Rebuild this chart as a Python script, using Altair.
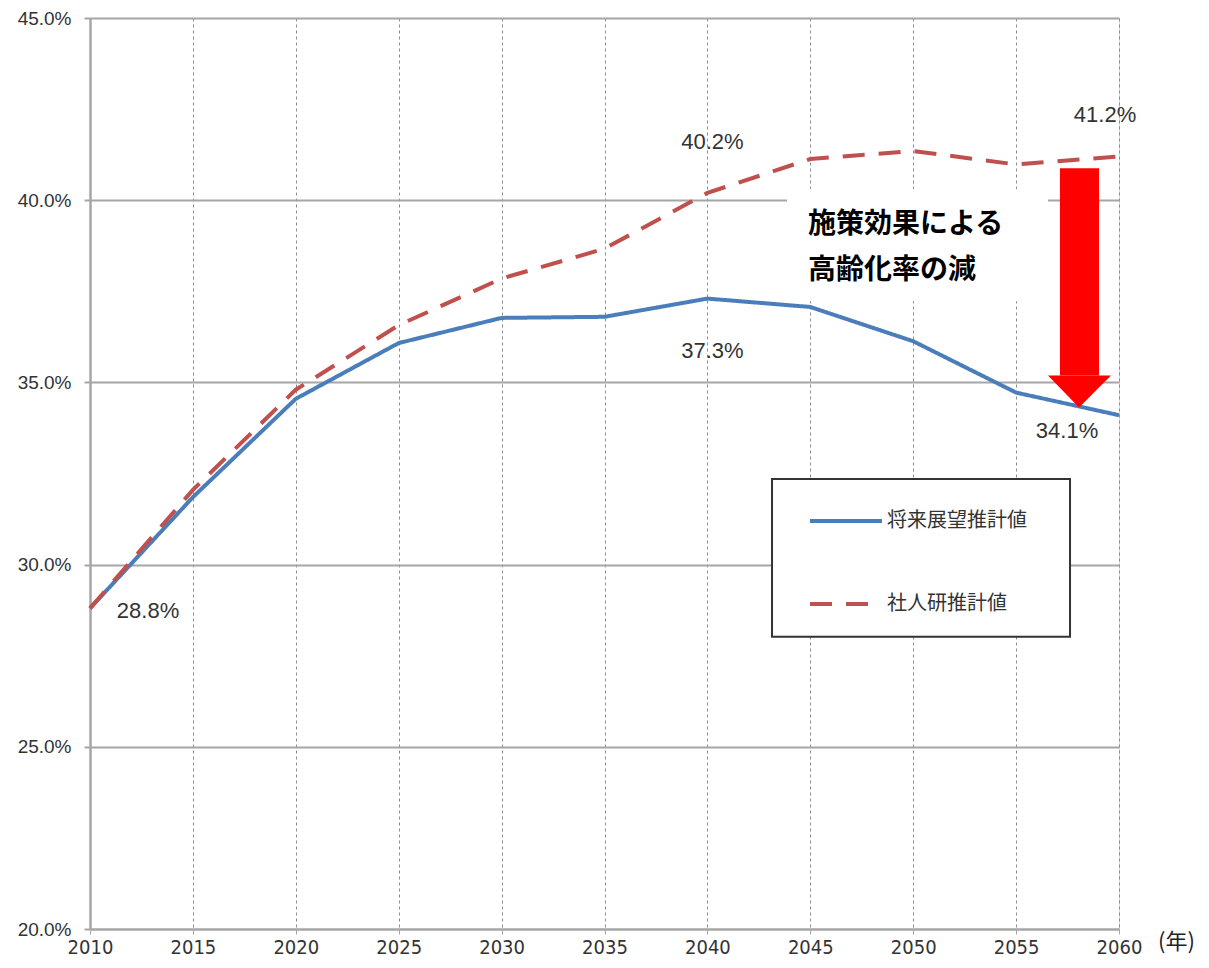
import altair as alt
import pandas as pd

# ---- data ----
years = [2010, 2015, 2020, 2025, 2030, 2035, 2040, 2045, 2050, 2055, 2060]
vision = [28.8, 31.85, 34.55, 36.08, 36.77, 36.8, 37.3, 37.07, 36.13, 34.72, 34.1]
ipss = [28.8, 32.05, 34.8, 36.57, 37.85, 38.67, 40.2, 41.13, 41.35, 40.98, 41.2]
series_names = ["将来展望推計値", "社人研推計値"]

label_years = [2010, 2040, 2040, 2060, 2060]
label_values = [28.8, 40.2, 37.3, 41.2, 34.1]
label_texts = ["28.8%", "40.2%", "37.3%", "41.2%", "34.1%"]

y_ticks = [20, 25, 30, 35, 40, 45]
x_ticks = [2010, 2015, 2020, 2025, 2030, 2035, 2040, 2045, 2050, 2055, 2060]

annotation_lines = ["施策効果による", "高齢化率の減"]

# ---- styles / annotation geometry ----
BLUE = "#4a7ebb"
RED = "#c0504d"
label_offsets = [(58, 3), (5, -51), (5, 52), (-14, -41), (-52, 16)]
NARROW = "'Liberation Sans Narrow', 'Arial Narrow', 'DejaVu Sans Condensed', Roboto, sans-serif"

df = pd.DataFrame({
    "year": years * 2,
    "value": vision + ipss,
    "series": [series_names[0]] * len(years) + [series_names[1]] * len(years),
})

x_scale = alt.Scale(domain=[2010, 2060], nice=False, zero=False)
y_scale = alt.Scale(domain=[20, 45], nice=False, zero=False)

x_axis = alt.Axis(
    values=x_ticks, format="d", title="(年)", grid=True,
    gridDash=[3, 3], gridColor="#8c8c8c", gridWidth=1,
    domainColor="#a6a6a6", domainWidth=2, tickColor="#a6a6a6", tickSize=5, tickWidth=1,
    labelFont=NARROW, labelFontSize=20, labelColor="#333333",
    labelPadding=3, labelFlush=False,
    titleX=1086, titleY=12, titleAngle=0, titleAlign="center", titleBaseline="middle",
    titleFont="Noto Sans CJK JP", titleFontSize=22, titleFontWeight="normal", titleColor="#222222",
)
y_axis = alt.Axis(
    values=y_ticks, labelExpr="format(datum.value, '.1f') + '%'", title=None, grid=True,
    gridColor="#a6a6a6", gridWidth=2, domainColor="#a6a6a6", domainWidth=2.5,
    tickColor="#a6a6a6", tickSize=6, tickWidth=2,
    labelFont="Liberation Sans", labelFontSize=19, labelColor="#333333", labelPadding=13,
)

def X(field="year"):
    return alt.X(f"{field}:Q", scale=x_scale, axis=x_axis)

def Y(field="value"):
    return alt.Y(f"{field}:Q", scale=y_scale, axis=y_axis, stack=None)

legend = alt.Legend(
    title=None, orient="none", legendX=718, legendY=465, symbolType="stroke",
    symbolSize=5184, symbolStrokeWidth=4, labelFont="Noto Sans CJK JP", labelFontSize=20,
    labelColor="#333333", rowPadding=35, labelOffset=3, padding=0, direction="vertical",
)

lines = alt.Chart(df).mark_line(strokeWidth=4).encode(
    x=X(), y=Y(),
    color=alt.Color("series:N", scale=alt.Scale(domain=series_names, range=[BLUE, RED]), legend=legend),
    strokeDash=alt.StrokeDash("series:N", scale=alt.Scale(domain=series_names, range=[[1, 0], [22, 14]]), legend=legend),
)

# white annotation box
box_df = pd.DataFrame({"year": [2043.87], "year2": [2056.55], "value": [40.31], "value2": [37.23]})
ann_box = alt.Chart(box_df).mark_rect(color="white").encode(
    x=X(), x2="year2:Q", y=Y(), y2="value2:Q")

ann_df = pd.DataFrame({"year": [2044.89, 2044.89], "value": [39.33, 38.05], "text": annotation_lines})
ann_text = alt.Chart(ann_df).mark_text(
    align="left", baseline="middle", font="Noto Sans CJK JP", fontSize=28,
    fontWeight="bold", color="black",
).encode(x=X(), y=Y(), text="text:N")

# red arrow
shaft_df = pd.DataFrame({"year": [2057.13], "year2": [2059.03], "value": [40.88], "value2": [35.19]})
shaft = alt.Chart(shaft_df).mark_rect(color="#ff0000").encode(
    x=X(), x2="year2:Q", y=Y(), y2="value2:Q")
head_df = pd.DataFrame({"year": [2056.55, 2058.06, 2059.61], "value": [35.19, 34.31, 35.19],
                        "value2": [35.19, 35.19, 35.19]})
head = alt.Chart(head_df).mark_area(color="#ff0000", opacity=1).encode(
    x=X(), y=Y(), y2="value2:Q")

# legend frame
frame_df = pd.DataFrame({"year": [2043.14], "year2": [2057.62], "value": [32.35], "value2": [28.02]})
frame = alt.Chart(frame_df).mark_rect(fill="white", stroke="#333333", strokeWidth=2).encode(
    x=X(), x2="year2:Q", y=Y(), y2="value2:Q")

# data labels
label_layers = []
for yr, v, t, (dx, dy) in zip(label_years, label_values, label_texts, label_offsets):
    ldf = pd.DataFrame({"year": [yr], "value": [v], "text": [t]})
    label_layers.append(
        alt.Chart(ldf).mark_text(
            align="center", baseline="middle", dx=dx, dy=dy,
            font="Liberation Sans", fontSize=22, color="#333333",
        ).encode(x=X(), y=Y(), text="text:N")
    )

chart = alt.layer(ann_box, frame, lines, ann_text, shaft, head, *label_layers).properties(
    width=1029, height=911,
    autosize=alt.AutoSizeParams(type="none"),
    padding={"left": 82, "top": 10, "right": 82, "bottom": 30},
).configure_view(stroke=None).configure(background="white")

chart.save("out.html", embed_options={"renderer": "svg", "actions": False})
